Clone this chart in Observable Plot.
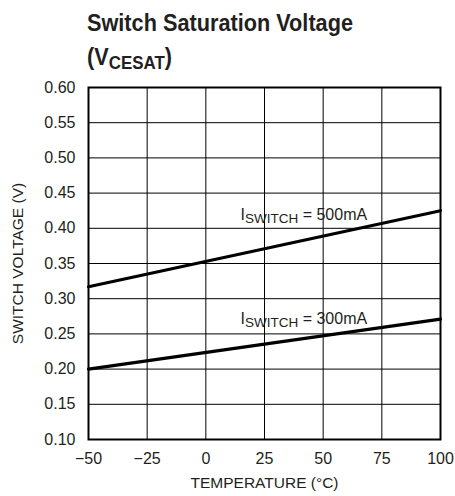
<!DOCTYPE html>
<html>
<head>
<meta charset="utf-8">
<script src="https://cdn.jsdelivr.net/npm/d3@7"></script>
<script src="https://cdn.jsdelivr.net/npm/@observablehq/plot@0.6"></script>
<style>
  body { margin: 0; background: #fff; width: 455px; height: 496px; overflow: hidden; }
  #title { box-sizing: border-box; height: 72px; padding: 6px 0 0 87px; font-family: 'Liberation Sans Narrow', 'Liberation Sans', Arimo, Roboto, sans-serif; font-weight: bold; font-size: 23.5px; line-height: 34px; color: #231f20; }
  #title .line { display: inline-block; transform-origin: 0 50%; }
  #title .sub { font-size: 0.78em; vertical-align: -0.22em; }
</style>
</head>
<body>
<div id="title"><span class="line">Switch Saturation Voltage</span><br><span class="line">(V<span class="sub">CESAT</span>)</span></div>
<div id="chart"></div>
<script>
// Data
const temperature = [-50, 100];
const v500 = [0.317, 0.425];
const v300 = [0.200, 0.271];
const xTicks = [-50, -25, 0, 25, 50, 75, 100];
const yTicks = [0.10, 0.15, 0.20, 0.25, 0.30, 0.35, 0.40, 0.45, 0.50, 0.55, 0.60];
const curveLabels = [
  {x: 15, y: 0.411, main: "I", sub: "SWITCH", rest: " = 500mA"},
  {x: 15, y: 0.263, main: "I", sub: "SWITCH", rest: " = 300mA"}
];
const xLabel = "TEMPERATURE (°C)";
const yLabel = "SWITCH VOLTAGE (V)";

const FONT = "'Liberation Sans', Arimo, Arial, Roboto, sans-serif";

const series = [
  ...temperature.map((t, i) => ({t, v: v500[i], s: "500mA"})),
  ...temperature.map((t, i) => ({t, v: v300[i], s: "300mA"}))
];

function subscriptLabels(data) {
  return (index, scales, values, dimensions) => {
    const g = d3.create("svg:g")
      .style("font-family", FONT)
      .attr("text-anchor", "start")
      .attr("fill", "#231f20");
    for (const d of data) {
      const t = g.append("text")
        .attr("x", scales.x(d.x))
        .attr("y", scales.y(d.y))
        .attr("font-size", 16);
      t.append("tspan").text(d.main);
      t.append("tspan").attr("font-size", 13.5).attr("dy", 3).text(d.sub);
      t.append("tspan").attr("dy", -3).text(d.rest);
    }
    return g.node();
  };
}

const chart = Plot.plot({
  width: 455,
  height: 424,
  marginTop: 15,
  marginBottom: 57,
  marginLeft: 88,
  marginRight: 15,
  style: {fontFamily: FONT, fontSize: "16px", color: "#231f20", background: "white"},
  x: {domain: [-50, 100], ticks: xTicks},
  y: {domain: [0.10, 0.60], ticks: yTicks},
  marks: [
    Plot.gridX(xTicks, {stroke: "#000", strokeOpacity: 1, strokeWidth: 1}),
    Plot.gridY(yTicks, {stroke: "#000", strokeOpacity: 1, strokeWidth: 1}),
    Plot.frame({stroke: "#000", strokeWidth: 2}),
    Plot.axisX(xTicks, {tickSize: 0, tickPadding: 13, label: null, fontSize: 16}),
    Plot.axisY(yTicks, {tickSize: 0, tickPadding: 13, label: null, tickFormat: d3.format(".2f"), fontSize: 16}),
    Plot.text([xLabel], {frameAnchor: "bottom", dy: 48, fontSize: 15.5, text: d => d}),
    Plot.text([yLabel], {frameAnchor: "left", textAnchor: "middle", rotate: -90, dx: -70, fontSize: 15.5, text: d => d}),
    Plot.line(series, {x: "t", y: "v", z: "s", stroke: "#000", strokeWidth: 3.2}),
    subscriptLabels(curveLabels)
  ]
});
document.getElementById("chart").append(chart);

// Fit title line width to the reference (narrow face)
const first = document.querySelector("#title .line");
const w = first.getBoundingClientRect().width;
const k = Math.min(1, 266 / w);
document.querySelectorAll("#title .line").forEach(el => el.style.transform = `scaleX(${k})`);
</script>
</body>
</html>
